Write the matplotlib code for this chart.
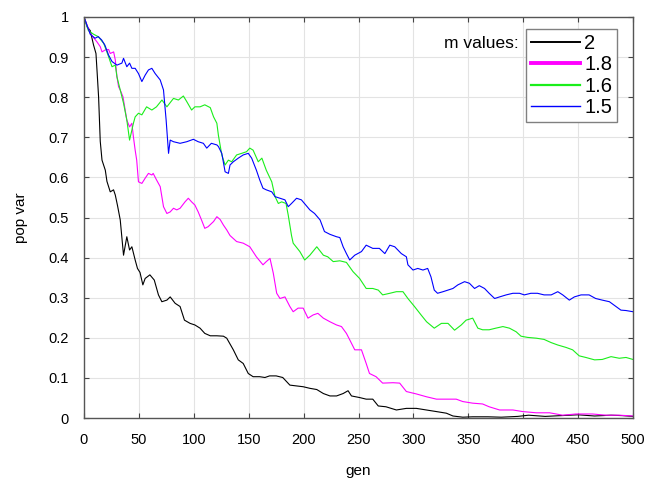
import matplotlib
matplotlib.use("Agg")
import matplotlib.pyplot as plt

plt.rcParams['font.family'] = ['Liberation Sans', 'DejaVu Sans']

labels = ['2', '1.8', '1.6', '1.5']
colors = ['#000000', '#ff00ff', '#1aee1a', '#0000ff']

gen_m2 = [0, 3, 5.7, 8.7, 10.9, 12, 13.3, 14.8, 16.4, 19.4, 20.9, 23.9, 26.9, 28.5, 30.5, 33, 36, 39, 41.5, 43.6,
          46.6, 48.7, 51, 53.6, 55.7, 60, 64, 67.8, 70.9, 75.5, 78.5, 83, 87.5, 91.5, 96.6, 101, 105.7, 110, 115,
          121, 127, 130, 136, 140.5, 145, 149.6, 154, 160, 164.8, 169, 175, 181, 187.5, 193.5, 199.6, 205.7, 212,
          218, 224, 230, 236, 240.5, 243.6, 251, 257, 263, 268, 275, 284.5, 293.6, 302.7, 311.8, 321, 330, 336,
          345, 354, 368, 380, 395, 405, 420, 435, 450, 465, 480, 490, 500]
val_m2 = [1.0, 0.975, 0.966, 0.93, 0.909, 0.86, 0.80, 0.69, 0.643, 0.618, 0.59, 0.564, 0.569, 0.556, 0.53, 0.494,
          0.406, 0.452, 0.419, 0.427, 0.394, 0.373, 0.363, 0.332, 0.348, 0.357, 0.344, 0.307, 0.29, 0.294, 0.302,
          0.286, 0.278, 0.244, 0.236, 0.232, 0.224, 0.211, 0.205, 0.205, 0.204, 0.199, 0.17, 0.145, 0.136, 0.111,
          0.103, 0.103, 0.101, 0.105, 0.105, 0.101, 0.082, 0.08, 0.078, 0.074, 0.071, 0.061, 0.055, 0.055, 0.061,
          0.068, 0.055, 0.051, 0.047, 0.047, 0.03, 0.028, 0.02, 0.024, 0.024, 0.02, 0.016, 0.012, 0.005, 0.002,
          0.003, 0.003, 0.002, 0.004, 0.007, 0.004, 0.006, 0.008, 0.005, 0.007, 0.006, 0.004]

gen_m18 = [0, 5.7, 11.8, 14.8, 16.4, 19.4, 22.4, 23.9, 27, 28.5, 30, 31.5, 33, 35.5, 37.5, 39, 41.5, 43.6, 45, 46.6,
           48, 49.6, 52.7, 55.7, 58.7, 61.8, 63, 66, 69.4, 72.4, 75.5, 78.5, 81.5, 84.5, 87.5, 92, 95, 98, 101,
           104, 107, 110, 113, 118, 121, 124, 127, 130, 133, 139, 145, 151, 157, 163, 166, 169.4, 172.4, 175.5,
           178.5, 183, 187.5, 190.5, 195, 199.6, 204, 208.7, 213, 218, 224, 230, 234.5, 239, 242, 246.6, 252.7,
           257, 260, 266, 272, 281.5, 287.5, 293.6, 302.7, 311.8, 321, 330, 339, 345, 354, 363, 369, 378.5,
           390.6, 399.6, 411.8, 424, 436, 448, 463, 475.5, 487.5, 500]
val_m18 = [1.0, 0.959, 0.938, 0.926, 0.913, 0.918, 0.919, 0.909, 0.913, 0.893, 0.851, 0.826, 0.818, 0.801, 0.768,
           0.743, 0.726, 0.735, 0.701, 0.668, 0.643, 0.589, 0.585, 0.598, 0.61, 0.606, 0.61, 0.594, 0.577, 0.527,
           0.51, 0.514, 0.523, 0.519, 0.523, 0.539, 0.548, 0.539, 0.531, 0.514, 0.494, 0.473, 0.477, 0.49, 0.502,
           0.495, 0.481, 0.469, 0.455, 0.44, 0.436, 0.427, 0.402, 0.382, 0.39, 0.398, 0.361, 0.311, 0.298, 0.302,
           0.278, 0.265, 0.274, 0.274, 0.249, 0.257, 0.261, 0.249, 0.24, 0.232, 0.228, 0.211, 0.195, 0.17, 0.17,
           0.136, 0.111, 0.103, 0.087, 0.088, 0.087, 0.066, 0.06, 0.053, 0.047, 0.047, 0.047, 0.041, 0.037,
           0.035, 0.028, 0.02, 0.02, 0.016, 0.013, 0.013, 0.007, 0.01, 0.01, 0.007, 0.007, 0.005]

gen_m16 = [0, 4, 8.7, 13, 18, 22.4, 25.5, 28.5, 30, 33, 36, 39, 41.5, 43.6, 45, 46.6, 49.6, 52.7, 57, 61.8, 66, 71,
           75.5, 81.5, 86, 90.5, 93.6, 98, 101, 105.7, 110, 115, 118, 121, 122.4, 125.5, 128.5, 131.5, 134.5, 139,
           143.6, 148, 151, 154, 158.7, 162, 166, 171, 174, 177, 180, 184, 186, 189, 190.5, 196.6, 201, 205.7, 212,
           218, 222, 227, 233, 239, 245, 251, 257, 263, 268, 272, 278.5, 284.5, 290.5, 295, 301, 307, 312, 319,
           325.5, 331.5, 337.5, 343.6, 348, 354, 358.7, 363, 369, 375, 381.5, 387.5, 393.6, 398, 404, 412, 419,
           425.5, 431.5, 439, 445, 451, 457, 465, 472, 480, 487.5, 493.6, 500]
val_m16 = [1.0, 0.966, 0.957, 0.951, 0.934, 0.901, 0.876, 0.88, 0.851, 0.818, 0.785, 0.743, 0.693, 0.718, 0.735,
           0.751, 0.76, 0.756, 0.776, 0.768, 0.776, 0.793, 0.776, 0.797, 0.793, 0.803, 0.789, 0.768, 0.776, 0.776,
           0.781, 0.774, 0.751, 0.735, 0.705, 0.656, 0.631, 0.643, 0.639, 0.656, 0.66, 0.664, 0.673, 0.668, 0.639,
           0.648, 0.618, 0.589, 0.552, 0.535, 0.539, 0.535, 0.506, 0.455, 0.436, 0.415, 0.394, 0.406, 0.427, 0.406,
           0.402, 0.39, 0.392, 0.388, 0.365, 0.348, 0.323, 0.323, 0.319, 0.307, 0.311, 0.315, 0.315, 0.298, 0.278,
           0.257, 0.24, 0.224, 0.236, 0.236, 0.219, 0.232, 0.244, 0.249, 0.224, 0.22, 0.22, 0.224, 0.228, 0.224,
           0.215, 0.204, 0.201, 0.199, 0.196, 0.188, 0.182, 0.176, 0.17, 0.155, 0.151, 0.145, 0.146, 0.153, 0.149,
           0.151, 0.146]

gen_m15 = [0, 5.7, 10, 13, 16, 19, 22.4, 25.5, 30, 34.5, 36, 39, 41.5, 43.6, 46.6, 49.6, 52.7, 55.7, 58.7, 61.8,
           64.8, 69.4, 72.4, 74.8, 77, 78.5, 81.5, 87.5, 93.6, 99.6, 104, 108.7, 111.8, 116, 121, 122.4, 125.5,
           128.5, 131.5, 133, 136, 140.5, 145, 149.6, 152.7, 157, 160, 163, 166, 171, 174, 178.5, 183, 186, 189,
           193.6, 198, 205.7, 210, 215, 219, 224, 230, 233, 236, 239, 242, 246.6, 252.7, 257, 263, 269, 274, 278.5,
           283, 289, 293.6, 295, 299.6, 304, 308.7, 313, 316, 319, 322, 327, 331.5, 336, 340.5, 346.6, 351, 355.7,
           360, 364.8, 369, 374, 378.5, 384.5, 390.6, 396.6, 401, 407, 413, 419, 425.5, 431.5, 436, 442, 446.6,
           452.7, 460, 466, 472, 478.5, 484.5, 489, 493.6, 500]
val_m15 = [1.0, 0.957, 0.947, 0.951, 0.943, 0.93, 0.905, 0.889, 0.88, 0.885, 0.897, 0.876, 0.885, 0.872, 0.872,
           0.859, 0.839, 0.855, 0.868, 0.872, 0.859, 0.843, 0.818, 0.743, 0.66, 0.693, 0.689, 0.685, 0.689, 0.695,
           0.689, 0.685, 0.673, 0.685, 0.681, 0.677, 0.66, 0.614, 0.61, 0.631, 0.639, 0.648, 0.656, 0.66, 0.648,
           0.618, 0.594, 0.573, 0.569, 0.564, 0.552, 0.548, 0.544, 0.527, 0.535, 0.548, 0.544, 0.519, 0.51, 0.494,
           0.465, 0.458, 0.452, 0.45, 0.427, 0.41, 0.394, 0.406, 0.415, 0.431, 0.423, 0.423, 0.41, 0.431, 0.427,
           0.41, 0.402, 0.382, 0.369, 0.373, 0.369, 0.373, 0.352, 0.319, 0.311, 0.315, 0.319, 0.323, 0.332, 0.34,
           0.336, 0.323, 0.33, 0.323, 0.311, 0.298, 0.302, 0.307, 0.311, 0.311, 0.307, 0.311, 0.311, 0.307, 0.307,
           0.315, 0.307, 0.294, 0.302, 0.307, 0.307, 0.298, 0.294, 0.29, 0.278, 0.269, 0.268, 0.265]

xticks = [0, 50, 100, 150, 200, 250, 300, 350, 400, 450, 500]
yticks = [0, 0.1, 0.2, 0.3, 0.4, 0.5, 0.6, 0.7, 0.8, 0.9, 1]
ytick_labels = ['0', '0.1', '0.2', '0.3', '0.4', '0.5', '0.6', '0.7', '0.8', '0.9', '1']

W, H = 647, 480
fig = plt.figure(figsize=(W / 100, H / 100), dpi=100)
ax = fig.add_axes([84 / W, 1 - 418 / H, (633 - 84) / W, (418 - 17) / H])

series = [(gen_m2, val_m2), (gen_m18, val_m18), (gen_m16, val_m16), (gen_m15, val_m15)]
for (g, v), c, lab in zip(series, colors, labels):
    ax.plot(g, v, color=c, lw=0.8, label=lab)

ax.set_xlim(0, 500)
ax.set_ylim(0, 1)
ax.set_xticks(xticks)
ax.set_yticks(yticks)
ax.set_yticklabels(ytick_labels)
ax.grid(True, color='#e3e3e3', lw=0.8)
ax.set_axisbelow(True)
for s in ax.spines.values():
    s.set_color('#555555')
    s.set_linewidth(1.0)
ax.tick_params(direction='in', top=True, right=True, length=3.5, width=0.8, color='#444444',
               labelsize=10.5, pad=11)
ax.set_xlabel('gen', fontsize=11, labelpad=12)
ax.set_ylabel('pop var', fontsize=11, labelpad=15)

leg = ax.legend(loc='upper left', bbox_to_anchor=(526 / W, 1 - 29 / H), bbox_transform=fig.transFigure,
                borderaxespad=0, fancybox=False, framealpha=1, edgecolor='#808080', fontsize=14.5,
                handlelength=2.45, handletextpad=0.2, labelspacing=0.12, borderpad=0.25)
leg.get_frame().set_linewidth(1.0)
lw_leg = [1.4, 2.8, 1.6, 1.0]
for hl, w in zip(leg.get_lines(), lw_leg):
    hl.set_linewidth(w)
fig.text(519 / W, 1 - 44 / H, 'm values:', ha='right', va='center', fontsize=12.5)

fig.savefig('out.png', dpi=100)
